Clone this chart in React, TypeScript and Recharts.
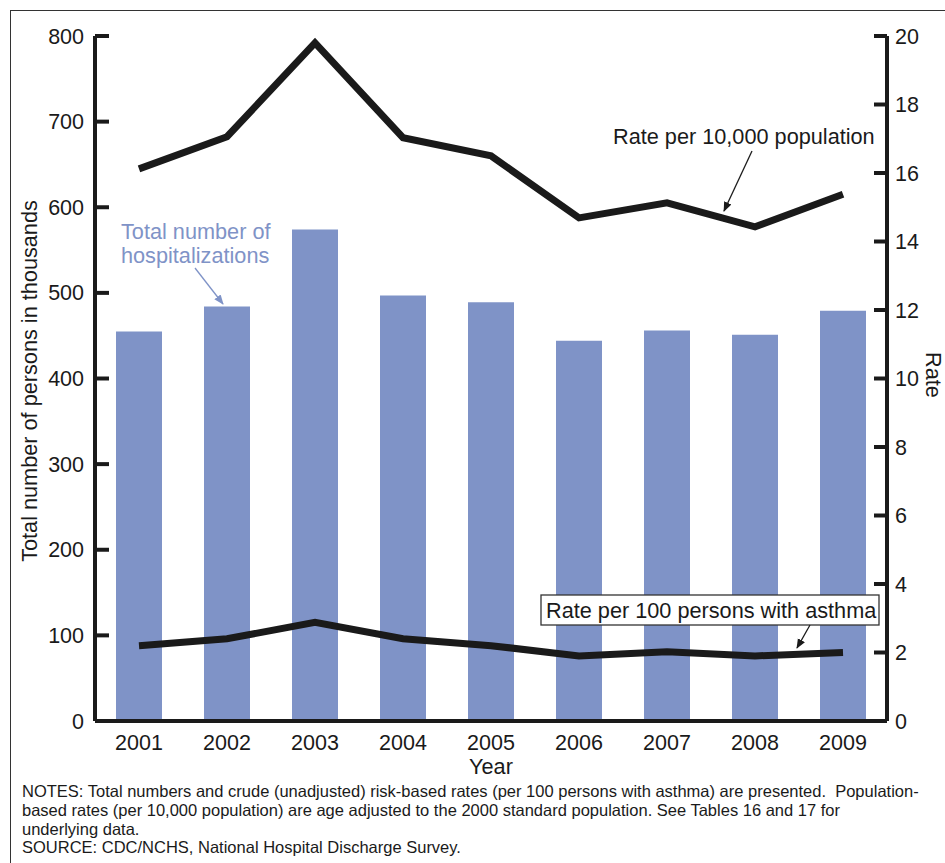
import React from 'react';
import { ComposedChart, Bar, Line, XAxis, YAxis } from 'recharts';

const years = ['2001', '2002', '2003', '2004', '2005', '2006', '2007', '2008', '2009'];
const hospitalizations = [455, 484, 574, 497, 489, 444, 456, 451, 479];
const ratePer10k = [16.12, 17.06, 19.8, 17.03, 16.5, 14.69, 15.13, 14.43, 15.38];
const ratePer100Asthma = [2.2, 2.4, 2.88, 2.4, 2.2, 1.9, 2.02, 1.9, 2.0];
const leftTicks = [0, 100, 200, 300, 400, 500, 600, 700, 800];
const rightTicks = [0, 2, 4, 6, 8, 10, 12, 14, 16, 18, 20];

const data = years.map((year, i) => ({
  year,
  total: hospitalizations[i],
  pop: ratePer10k[i],
  asthma: ratePer100Asthma[i],
}));

const FONT = '"Liberation Sans", Arial, Helvetica, sans-serif';
const INK = '#1a1a1a';
const BAR = '#7f93c7';
const LEFT_MARGIN = 11;
const RIGHT_MARGIN = 8;
const TICK_FONT = 21.5;
const LABEL_FONT = 21.7;

function LeftTick(props: any) {
  const { x, y, payload } = props;
  const ax = x + LEFT_MARGIN;
  return (
    <g>
      <line x1={ax} x2={ax + 14} y1={y} y2={y} stroke={INK} strokeWidth={4} />
      <text x={x} y={y} dy={7.5} textAnchor="end" fontSize={TICK_FONT} fill={INK} fontFamily={FONT}>
        {payload.value}
      </text>
    </g>
  );
}

function RightTick(props: any) {
  const { x, y, payload } = props;
  const ax = x - RIGHT_MARGIN;
  return (
    <g>
      <line x1={ax - 13} x2={ax} y1={y} y2={y} stroke={INK} strokeWidth={4} />
      <text x={x} y={y} dy={7.5} textAnchor="start" fontSize={TICK_FONT} fill={INK} fontFamily={FONT}>
        {payload.value}
      </text>
    </g>
  );
}

function YearTick(props: any) {
  const { x, y, payload } = props;
  return (
    <text x={x} y={y} dy={21} textAnchor="middle" fontSize={TICK_FONT} fill={INK} fontFamily={FONT}>
      {payload.value}
    </text>
  );
}

export default function App() {
  return (
    <div
      style={{
        position: 'absolute',
        left: 0,
        top: 0,
        width: 945,
        height: 863,
        background: '#fff',
        overflow: 'hidden',
        fontFamily: FONT,
      }}
    >
      <div
        style={{
          position: 'absolute',
          left: 10,
          top: 10,
          width: 1000,
          height: 900,
          borderTop: '1.5px solid #333',
          borderLeft: '1.5px solid #333',
        }}
      />
      <div style={{ position: 'absolute', left: 0, top: 0 }}>
        <ComposedChart
          width={945}
          height={781}
          data={data}
          margin={{ top: 36, right: 0, bottom: 0, left: 0 }}
          barCategoryGap={0}
        >
          <XAxis
            dataKey="year"
            axisLine={{ stroke: INK, strokeWidth: 4 }}
            tickLine={false}
            tick={<YearTick />}
            height={60}
          />
          <YAxis
            yAxisId="left"
            orientation="left"
            width={95}
            domain={[0, 800]}
            ticks={leftTicks}
            interval={0}
            tickSize={0}
            tickMargin={LEFT_MARGIN}
            axisLine={{ stroke: INK, strokeWidth: 4 }}
            tickLine={false}
            tick={<LeftTick />}
          />
          <YAxis
            yAxisId="right"
            orientation="right"
            width={58}
            domain={[0, 20]}
            ticks={rightTicks}
            interval={0}
            tickSize={0}
            tickMargin={RIGHT_MARGIN}
            axisLine={{ stroke: INK, strokeWidth: 4 }}
            tickLine={false}
            tick={<RightTick />}
          />
          <Bar yAxisId="left" dataKey="total" fill={BAR} barSize={46} isAnimationActive={false} />
          <Line
            yAxisId="right"
            type="linear"
            dataKey="pop"
            stroke={INK}
            strokeWidth={7}
            strokeLinejoin="miter"
            dot={false}
            activeDot={false}
            isAnimationActive={false}
          />
          <Line
            yAxisId="right"
            type="linear"
            dataKey="asthma"
            stroke={INK}
            strokeWidth={7}
            strokeLinejoin="miter"
            dot={false}
            activeDot={false}
            isAnimationActive={false}
          />
        </ComposedChart>
      </div>
      <svg
        width={945}
        height={863}
        style={{ position: 'absolute', left: 0, top: 0, pointerEvents: 'none' }}
        fontFamily={FONT}
      >
        <defs>
          <marker id="arrowBlack" markerWidth="10" markerHeight="10" refX="9" refY="5" orient="auto" markerUnits="userSpaceOnUse">
            <path d="M0,1 L10,5 L0,9 Z" fill={INK} />
          </marker>
          <marker id="arrowBlue" markerWidth="10" markerHeight="10" refX="9" refY="5" orient="auto" markerUnits="userSpaceOnUse">
            <path d="M0,1 L10,5 L0,9 Z" fill={BAR} />
          </marker>
        </defs>
        <text transform="translate(37,381) rotate(-90)" textAnchor="middle" fontSize={LABEL_FONT} fill={INK}>
          Total number of persons in thousands
        </text>
        <text transform="translate(926,375) rotate(90)" textAnchor="middle" fontSize={LABEL_FONT} fill={INK}>
          Rate
        </text>
        <text x={491} y={774} textAnchor="middle" fontSize={LABEL_FONT} fill={INK}>
          Year
        </text>

        <text x={613} y={144} fontSize={LABEL_FONT} fill={INK}>
          Rate per 10,000 population
        </text>
        <line x1={752} y1={151} x2={724} y2={211} stroke={INK} strokeWidth={1.3} markerEnd="url(#arrowBlack)" />

        <text x={121} y={239} fontSize={LABEL_FONT} fill={BAR}>
          Total number of
        </text>
        <text x={121} y={263} fontSize={LABEL_FONT} fill={BAR}>
          hospitalizations
        </text>
        <line x1={195} y1={268} x2={223} y2={304} stroke={BAR} strokeWidth={1.3} markerEnd="url(#arrowBlue)" />

        <rect x={541} y={595} width={338} height={30} fill="#fff" stroke="#333" strokeWidth={1.3} />
        <text x={546} y={618} fontSize={LABEL_FONT} fill={INK}>
          Rate per 100 persons with asthma
        </text>
        <line x1={810} y1={625} x2={797} y2={648} stroke={INK} strokeWidth={1.3} markerEnd="url(#arrowBlack)" />

        <g fontSize={16.5} fill={INK}>
          <text x={22} y={797} xmlSpace="preserve">
            {'NOTES: Total numbers and crude (unadjusted) risk-based rates (per 100 persons with asthma) are presented.  Population-'}
          </text>
          <text x={22} y={816}>
            based rates (per 10,000 population) are age adjusted to the 2000 standard population. See Tables 16 and 17 for
          </text>
          <text x={22} y={835}>
            underlying data.
          </text>
          <text x={22} y={853}>
            SOURCE: CDC/NCHS, National Hospital Discharge Survey.
          </text>
        </g>
      </svg>
    </div>
  );
}
